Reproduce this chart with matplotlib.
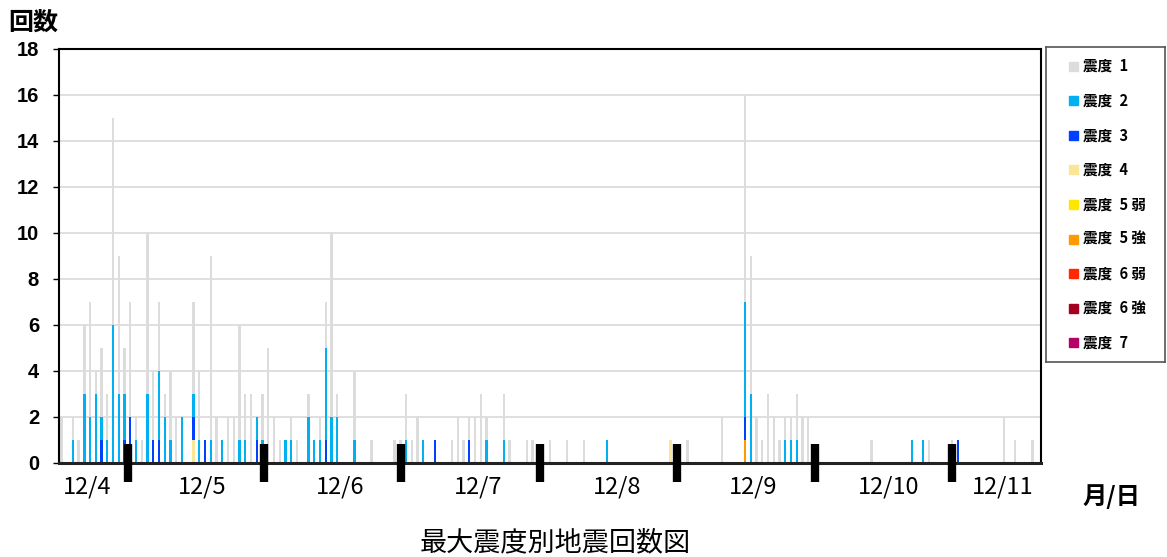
import matplotlib
matplotlib.use("Agg")
import matplotlib.pyplot as plt
import numpy as np
from matplotlib.patches import Rectangle

plt.rcParams['font.family'] = ['Liberation Sans', 'Noto Sans CJK JP', 'DejaVu Sans']

# hourly counts, 12/4 00:00 onward (171 hours), one line per day
shindo1 = [2,0,1,1,3,5,1,3,2,9,6,2,5,1,1,7,3,3,1,3,2,0,0,4,
           3,0,8,2,0,2,2,5,2,3,0,2,5,2,1,0,1,1,0,1,0,1,2,8,
           1,0,0,3,0,0,1,0,0,0,1,1,2,1,2,0,0,0,0,0,1,2,1,1,
           2,3,1,0,0,2,1,0,0,1,1,0,0,1,0,0,1,0,0,1,0,0,0,0,
           0,0,0,0,0,0,0,0,0,0,0,0,0,1,0,0,0,0,0,2,0,0,0,9,
           6,2,1,3,2,1,1,1,2,2,2,0,0,0,0,0,0,0,0,0,0,1,0,0,
           0,0,0,0,0,0,0,1,0,0,0,1,0,0,0,0,0,0,0,0,2,0,1,0,
           0,1,0]
shindo2 = [0,0,1,0,3,2,3,1,1,6,3,2,0,1,0,3,0,3,2,1,0,2,0,1,
           1,0,1,0,1,0,0,1,1,0,1,1,0,0,0,1,1,0,0,2,1,1,4,2,
           2,0,0,1,0,0,0,0,0,0,0,0,1,0,0,1,0,0,0,0,0,0,0,0,
           0,0,1,0,0,1,0,0,0,0,0,0,0,0,0,0,0,0,0,0,0,0,0,1,
           0,0,0,0,0,0,0,0,0,0,0,0,0,0,0,0,0,0,0,0,0,0,0,5,
           3,0,0,0,0,0,1,1,1,0,0,0,0,0,0,0,0,0,0,0,0,0,0,0,
           0,0,0,0,1,0,1,0,0,0,0,0,0,0,0,0,0,0,0,0,0,0,0,0,
           0,0,0]
shindo3 = [0,0,0,0,0,0,0,1,0,0,0,1,2,0,0,0,1,1,0,0,0,0,0,1,
           0,1,0,0,0,0,0,0,0,0,1,0,0,0,0,0,0,0,0,0,0,0,1,0,
           0,0,0,0,0,0,0,0,0,0,0,0,0,0,0,0,0,1,0,0,0,0,0,1,
           0,0,0,0,0,0,0,0,0,0,0,0,0,0,0,0,0,0,0,0,0,0,0,0,
           0,0,0,0,0,0,0,0,0,0,0,0,0,0,0,0,0,0,0,0,0,0,0,1,
           0,0,0,0,0,0,0,0,0,0,0,0,0,0,0,0,0,0,0,0,0,0,0,0,
           0,0,0,0,0,0,0,0,0,0,0,0,1,0,0,0,0,0,0,0,0,0,0,0,
           0,0,0]
n_hours = len(shindo1)
shindo4 = np.zeros(n_hours); shindo4[23] = 1; shindo4[106] = 1
shindo5l = np.zeros(n_hours)
shindo5u = np.zeros(n_hours); shindo5u[119] = 1
shindo6l = np.zeros(n_hours)
shindo6u = np.zeros(n_hours)
shindo7 = np.zeros(n_hours)

labels = ['震度\u20021', '震度\u20022', '震度\u20023', '震度\u20024', '震度\u20025 弱',
          '震度\u20025 強', '震度\u20026 弱', '震度\u20026 強', '震度\u20027']
colors = ['#DCDCDC', '#00B0F0', '#0041FF', '#FAE696', '#FFE600',
          '#FF9900', '#FF2800', '#A50021', '#B40068']
date_labels = ['12/4', '12/5', '12/6', '12/7', '12/8', '12/9', '12/10', '12/11']
date_pos = [4.5, 24.5, 48.5, 72.5, 96.7, 120.4, 143.9, 163.9]
day_ticks = [11.6, 35.25, 59.1, 83.3, 107.1, 131.2, 155.0]

W, H = 1167, 557
fig = plt.figure(figsize=(W/100, H/100), dpi=100)
ax = fig.add_axes([58.5/W, 1-463/H, (1041-58.5)/W, (463-49)/H])

x = np.arange(n_hours)
# stacking order: weakest at top, strongest at bottom
series = [shindo1, shindo2, shindo3, shindo4, shindo5l, shindo5u, shindo6l, shindo6u, shindo7]
bottom = np.zeros(n_hours)
for k in range(len(series)-1, -1, -1):
    v = np.asarray(series[k], dtype=float)
    ax.bar(x, v, width=0.4, bottom=bottom, color=colors[k], linewidth=0, zorder=2)
    bottom += v

ax.set_xlim(-0.5, n_hours-0.5)
ax.set_ylim(0, 18)
ax.set_yticks(range(0, 19, 2))
ax.yaxis.grid(True, color='#D9D9D9', linewidth=1.2)
ax.yaxis.set_zorder(0.5)
ax.xaxis.set_zorder(5)
ax.tick_params(axis='y', direction='out', length=4, width=1, labelsize=14.5, pad=10)
for t in ax.get_yticklabels():
    t.set_fontweight('bold')

ax.set_xticks(day_ticks)
ax.set_xticklabels([])
ax.tick_params(axis='x', direction='inout', length=27, width=6, color='black')

for s in ['left', 'top', 'right']:
    ax.spines[s].set_linewidth(1.5)
ax.spines['bottom'].set_linewidth(2.2)
ax.spines['bottom'].set_color('#222222')

for lab, p in zip(date_labels, date_pos):
    ax.text(p, -24/414, lab, transform=ax.get_xaxis_transform(), ha='center', va='center',
            fontsize=17, family=['Noto Sans CJK JP'])

fig.text(33/W, 1-23/H, '回数', ha='center', va='center', fontsize=18, fontweight='bold',
         family=['Noto Sans CJK JP'])
fig.text(1111/W, 1-497/H, '月/日', ha='center', va='center', fontsize=17.5, fontweight='bold',
         family=['Noto Sans CJK JP'])
fig.text(555/W, 1-543/H, '最大震度別地震回数図', ha='center', va='center', fontsize=19.5,
         family=['Noto Sans CJK JP'])

# legend box
lg = fig.add_axes([1046/W, 1-362/H, 119/W, 315/H])
lg.set_xlim(0, 119)
lg.set_ylim(315, 0)
lg.set_xticks([]); lg.set_yticks([])
for s in lg.spines.values():
    s.set_color('#555555'); s.set_linewidth(1.2)
for k, lab in enumerate(labels):
    yc = 19 + k*34.6
    lg.add_patch(Rectangle((23, yc-4.5), 9, 9, color=colors[k]))
    lg.text(37, yc, lab, va='center', ha='left', fontsize=10.5, fontweight='bold',
            family=['Noto Sans CJK JP', 'DejaVu Sans'])

fig.savefig('out.png', dpi=100)
